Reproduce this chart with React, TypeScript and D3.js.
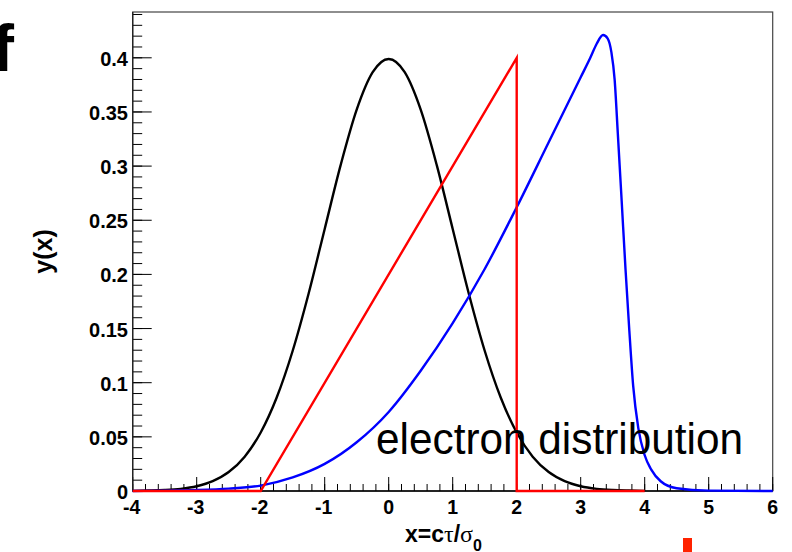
import React from "react";
import * as d3 from "d3";

// Standard normal shape (black), sampled every 0.25
const gaussX = d3.range(-4, 4.001, 0.25);
const gaussY = [
  0.0001, 0.0004, 0.0009, 0.002, 0.0044, 0.0091, 0.0175, 0.0317, 0.054, 0.0863,
  0.1295, 0.1826, 0.242, 0.3011, 0.3521, 0.3867, 0.3989, 0.3867, 0.3521, 0.3011,
  0.242, 0.1826, 0.1295, 0.0863, 0.054, 0.0317, 0.0175, 0.0091, 0.0044, 0.002,
  0.0009, 0.0004, 0.0001,
];

// Ramp profile (red)
const rampX = [-4, -2, 2, 2, 4];
const rampY = [0, 0, 0.4, 0, 0];

// Electron distribution (blue)
const electronX = [
  -4, -3.5, -3, -2.5, -2, -1.5, -1, -0.5, 0, 0.5, 1, 1.5, 2, 2.5, 3, 3.15,
  3.25, 3.35, 3.42, 3.48, 3.53, 3.58, 3.64, 3.7, 3.76, 3.82, 3.9, 4.0, 4.1,
  4.25, 4.5, 5, 6,
];
const electronY = [
  0, 0.0003, 0.0009, 0.0022, 0.005, 0.0125, 0.025, 0.045, 0.073, 0.111, 0.155,
  0.205, 0.262, 0.322, 0.382, 0.4, 0.413, 0.421, 0.418, 0.405, 0.38, 0.33,
  0.268, 0.205, 0.148, 0.097, 0.058, 0.033, 0.02, 0.009, 0.0025, 0.0003, 0,
];

const xTickLabels = ["-4", "-3", "-2", "-1", "0", "1", "2", "3", "4", "5", "6"];
const yTickLabels = ["0", "0.05", "0.1", "0.15", "0.2", "0.25", "0.3", "0.35", "0.4"];

const W = 792;
const H = 552;
const L = 132.7;
const R = 772.7;
const T = 12;
const B = 491;

const FONT = "'Liberation Sans', Arial, Helvetica, sans-serif";
const GREEK = "'Liberation Serif', 'DejaVu Serif', serif";

export default function App() {
  const x = d3.scaleLinear().domain([-4, 6]).range([L, R]);
  const y = d3.scaleLinear().domain([0, 0.4423]).range([B, T]);

  const line = (xs: number[], ys: number[], curve: d3.CurveFactory) =>
    d3
      .line<number>()
      .x((_, i) => x(xs[i]))
      .y((d) => y(d))
      .curve(curve)(ys) || "";

  const xMajor = xTickLabels.map((s) => +s);
  const xMinor = d3.range(-4, 6.0001, 0.2).map((v) => Math.round(v * 10) / 10);
  const yMajor = yTickLabels.map((s) => +s);
  const yMinor = d3.range(0, 0.4423, 0.01);

  return (
    <svg
      width={W}
      height={H}
      viewBox={`0 0 ${W} ${H}`}
      style={{ position: "absolute", left: 0, top: 0, background: "#fff" }}
    >
      <rect width={W} height={H} fill="#fff" />

      {/* panel letter */}
      <text x={-8} y={71} fontFamily={FONT} fontWeight="bold" fontSize={66} fill="#000">
        f
      </text>

      {/* frame */}
      <rect x={L} y={T} width={R - L} height={B - T} fill="none" stroke="#444" strokeWidth={1.2} />

      {/* x ticks */}
      {xMinor.map((v, i) => (
        <line key={"xm" + i} x1={x(v)} x2={x(v)} y1={B} y2={B - 7} stroke="#000" strokeWidth={1} />
      ))}
      {xMajor.map((v, i) => (
        <line key={"xM" + i} x1={x(v)} x2={x(v)} y1={B} y2={B - 14} stroke="#000" strokeWidth={1} />
      ))}
      {/* y ticks */}
      {yMinor.map((v, i) => (
        <line key={"ym" + i} x1={L} x2={L + 9.5} y1={y(v)} y2={y(v)} stroke="#000" strokeWidth={1} />
      ))}
      {yMajor.map((v, i) => (
        <line key={"yM" + i} x1={L} x2={L + 19} y1={y(v)} y2={y(v)} stroke="#000" strokeWidth={1} />
      ))}

      {/* axis lines */}
      <line x1={L} x2={R} y1={B} y2={B} stroke="#000" strokeWidth={1.3} />
      <line x1={L} x2={L} y1={B} y2={T} stroke="#222" strokeWidth={1.3} />

      {/* curves */}
      <path d={line(gaussX, gaussY, d3.curveMonotoneX)} fill="none" stroke="#000" strokeWidth={2.4} />
      <path d={line(electronX, electronY, d3.curveMonotoneX)} fill="none" stroke="#0000ff" strokeWidth={2.4} />
      <path d={line(rampX, rampY, d3.curveLinear)} fill="none" stroke="#ff0000" strokeWidth={2.4} />

      {/* tick labels */}
      {xTickLabels.map((s, i) => (
        <text
          key={"xl" + i}
          x={x(xMajor[i]) - (s.startsWith("-") ? 1 : 0)}
          y={513.5}
          textAnchor="middle"
          fontFamily={FONT}
          fontWeight="bold"
          fontSize={19.5}
          fill="#000"
        >
          {s}
        </text>
      ))}
      {yTickLabels.map((s, i) => (
        <text
          key={"yl" + i}
          x={128}
          y={y(yMajor[i]) + 1}
          textAnchor="end"
          dominantBaseline="central"
          fontFamily={FONT}
          fontWeight="bold"
          fontSize={20}
          fill="#000"
        >
          {s}
        </text>
      ))}

      {/* axis titles */}
      <text x={405} y={542} fontFamily={FONT} fontWeight="bold" fontSize={23} fill="#000">
        x=c
        <tspan fontFamily={GREEK} fontWeight="normal" fontSize={24}>τ</tspan>
        /
        <tspan fontFamily={GREEK} fontWeight="normal" fontSize={24}>σ</tspan>
        <tspan fontSize={16} dy={9}>0</tspan>
      </text>
      <text
        transform="translate(52,251.5) rotate(-90)"
        textAnchor="middle"
        fontFamily={FONT}
        fontWeight="bold"
        fontSize={25}
        fill="#000"
      >
        y(x)
      </text>

      {/* annotation */}
      <text
        x={376}
        y={454}
        fontFamily={FONT}
        fontSize={45}
        textLength={367}
        lengthAdjust="spacingAndGlyphs"
        fill="#000"
      >
        electron distribution
      </text>

      {/* marker */}
      <rect x={683} y={538} width={9} height={14} fill="#ff2200" />
    </svg>
  );
}
